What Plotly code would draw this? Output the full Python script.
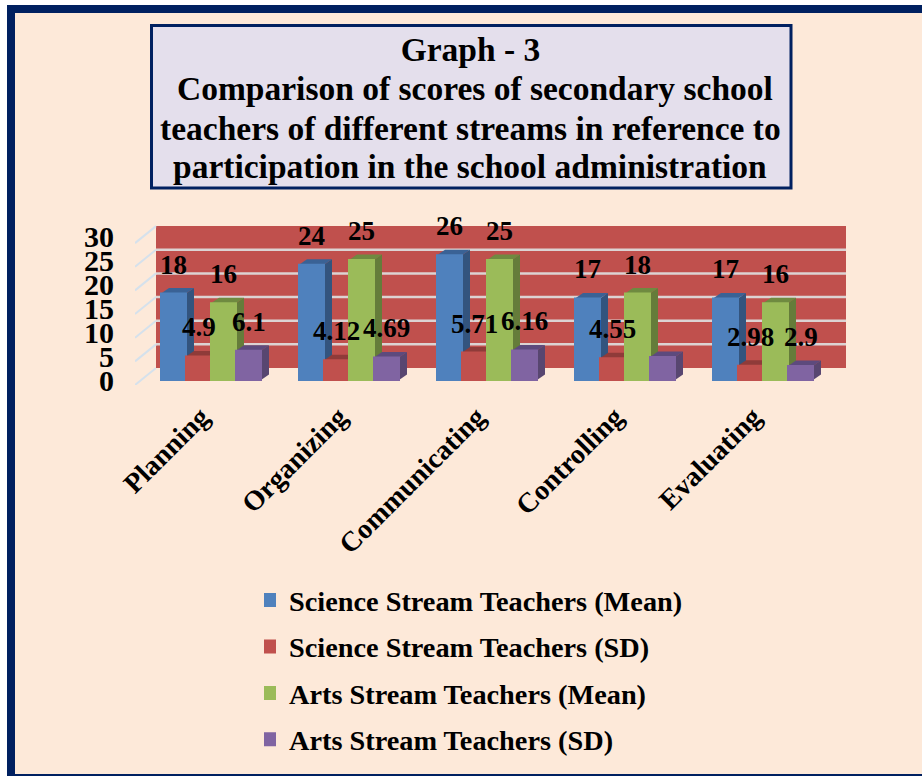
import plotly.graph_objects as go

categories = ["Planning", "Organizing", "Communicating", "Controlling", "Evaluating"]
science_mean = [18, 24, 26, 17, 17]
science_sd = [4.9, 4.12, 5.71, 4.55, 2.98]
arts_mean = [16, 25, 25, 18, 16]
arts_sd = [6.1, 4.69, 6.16, 4.8, 2.9]
arts_sd_labels = ["6.1", "4.69", "6.16", "", "2.9"]
y_ticks = [0, 5, 10, 15, 20, 25, 30]
title_main = "Graph - 3"
title_lines = [
    "Comparison of scores of secondary school",
    "teachers of different streams in reference to",
    "participation in the school administration",
]

W, H = 922, 776
FONT = "Liberation Serif"
NAVY = "#002060"
PEACH = "#FDE9D9"
PX_X = 138.0
PX_Y = 4.8
BAR_PX = 25.0
DX = 8 / PX_X
DY = 5.5 / PX_Y
WALL_DY = 12 / PX_Y
WALL_K = 4.73 / PX_Y
LEFT, RIGHT, BOTTOM, TOP = 135, 846, 385, 222
X0, Y0 = 211, 380
BW = BAR_PX / PX_X


def px(x):
    return x / W


def py(y):
    return 1 - y / H


series = [
    ("Science Stream Teachers (Mean)", science_mean, [str(v) for v in science_mean], "#4F81BD", "#33547E", "#3A6295"),
    ("Science Stream Teachers (SD)", science_sd, ["4.9", "4.12", "5.71", "4.55", "2.98"], "#C0504D", "#8A3A38", "#8F3B39"),
    ("Arts Stream Teachers (Mean)", arts_mean, [str(v) for v in arts_mean], "#9BBB59", "#657C3A", "#6F8A40"),
    ("Arts Stream Teachers (SD)", arts_sd, arts_sd_labels, "#8064A2", "#584670", "#5D4A7D"),
]

shapes = [
    dict(type="rect", xref="paper", yref="paper", x0=px(11), x1=px(W + 20), y0=py(9), y1=py(778),
         fillcolor=PEACH, line=dict(color=NAVY, width=8), layer="below"),
    dict(type="rect", xref="paper", yref="paper", x0=px(151.5), x1=px(791), y0=py(25.5), y1=py(188),
         fillcolor="#E4DFEC", line=dict(color=NAVY, width=3), layer="below"),
    dict(type="rect", xref="x", yref="y", x0=(156 - X0) / PX_X, x1=(846 - X0) / PX_X,
         y0=WALL_DY, y1=30 * WALL_K + WALL_DY, fillcolor="#C0504D", line=dict(width=0), layer="below"),
]
for t in y_ticks:
    if 0 < t < 30:
        shapes.append(dict(type="line", xref="x", yref="y", x0=(156 - X0) / PX_X, x1=(846 - X0) / PX_X,
                           y0=t * WALL_K + WALL_DY, y1=t * WALL_K + WALL_DY,
                           line=dict(color="#DCD3D3", width=2.5), layer="below"))
    shapes.append(dict(type="line", xref="x", yref="y", x0=(135 - X0) / PX_X, x1=(156 - X0) / PX_X,
                       y0=t * WALL_K - 5 / PX_Y, y1=t * WALL_K + WALL_DY,
                       line=dict(color="#D5E1EC", width=2), layer="below"))

fig = go.Figure()
annotations = []
xs = list(range(len(categories)))
for j, (name, vals, labels, col, side, top) in enumerate(series):
    fig.add_trace(go.Bar(x=xs, y=vals, name=name, marker=dict(color=col, line=dict(width=2, color=col)),
                         legendgroup=name, hoverinfo="x+y"))
    for i, v in enumerate(vals):
        l = i + (j - 2) * BW
        r = l + BW
        shapes.append(dict(type="path", xref="x", yref="y", layer="below", fillcolor=side, line=dict(width=0),
                           path=f"M{r},0 L{r + DX},{DY} L{r + DX},{v + DY} L{r},{v} Z"))
        shapes.append(dict(type="path", xref="x", yref="y", layer="below", fillcolor=top, line=dict(width=0),
                           path=f"M{l},{v} L{l + DX},{v + DY} L{r + DX},{v + DY} L{r},{v} Z"))
        if labels[i]:
            annotations.append(dict(x=(l + r) / 2, y=v, xref="x", yref="y", text=f"<b>{labels[i]}</b>",
                                    showarrow=False, yshift=29, font=dict(family=FONT, size=27, color="black")))

for text, cx, cy in zip(title_lines, [475, 470.5, 470], [88.5, 128.5, 166.5]):
    annotations.append(dict(x=px(cx), y=py(cy), xref="paper", yref="paper", text=f"<b>{text}</b>",
                            showarrow=False, xanchor="center", yanchor="middle",
                            font=dict(family=FONT, size=33.5, color="black")))

fig.update_layout(
    template="none",
    width=W, height=H, autosize=False,
    margin=dict(l=0, r=0, t=0, b=0),
    paper_bgcolor="white", plot_bgcolor="rgba(0,0,0,0)",
    barmode="group", bargap=1 - 4 * BW, bargroupgap=0,
    font=dict(family=FONT, color="black"),
    shapes=shapes, annotations=annotations,
    title=dict(text=f"<b>{title_main}</b>", x=470.5 / W, y=py(49.5),
               xanchor="center", yanchor="middle", font=dict(family=FONT, size=33.5, color="black")),
    xaxis=dict(domain=[px(LEFT), px(RIGHT)], range=[(LEFT - X0) / PX_X, (RIGHT - X0) / PX_X],
               tickmode="array", tickvals=xs, ticktext=[f"<b>{c}</b>" for c in categories],
               tickangle=-45, ticks="", showgrid=False, zeroline=False, showline=False, automargin=False,
               ticklabelstandoff=9, ticklabelshift=-10, tickfont=dict(family=FONT, size=28, color="black")),
    yaxis=dict(domain=[py(BOTTOM), py(TOP)], range=[(Y0 - BOTTOM) / PX_Y, (Y0 - TOP) / PX_Y],
               tickmode="array", tickvals=y_ticks, ticktext=[f"<b>{t}</b>" for t in y_ticks],
               ticks="", showgrid=False, zeroline=False, showline=False, automargin=False,
               ticklabelstandoff=20, tickfont=dict(family=FONT, size=30, color="black")),
    legend=dict(x=px(264), y=py(575), xanchor="left", yanchor="top", bgcolor="rgba(0,0,0,0)",
                orientation="v", traceorder="grouped", tracegroupgap=6.7, indentation=-15,
                font=dict(family=FONT, size=28.3, color="black", weight="bold")),
)
fig.write_html("out.html", config={"displayModeBar": False}, post_script="document.body.style.margin='0';")
